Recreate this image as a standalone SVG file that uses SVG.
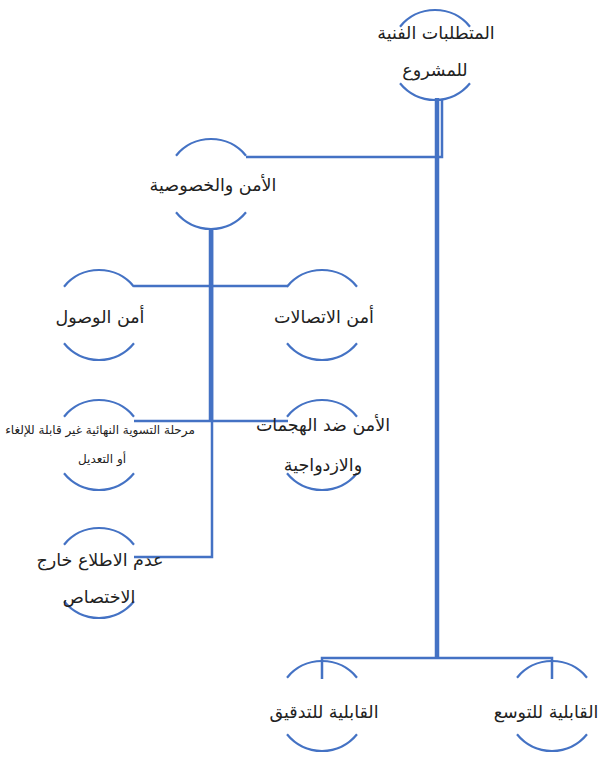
<svg xmlns="http://www.w3.org/2000/svg" xmlns:xlink="http://www.w3.org/1999/xlink" width="602" height="758" viewBox="0 0 602 758">
<style>
.arc{fill:none;stroke:#4472C4;stroke-width:2.2}
.ln{fill:none;stroke:#4472C4;stroke-width:2.5}
.tk{fill:none;stroke:#4472C4;stroke-width:4.5}
.t{font-family:"DejaVu Sans",sans-serif;font-size:17.5px;fill:#222;text-anchor:middle;direction:rtl}
.s{font-size:12px}
</style>
<defs>
<g id="arcs">
<path class="arc" d="M-35 -28.3 A45 45 0 0 1 35 -28.3"/>
<path class="arc" d="M-35 28.3 A45 45 0 0 0 35 28.3"/>
</g>
</defs>
<rect width="602" height="758" fill="#fff"/>
<g id="connectors">
<path class="ln" d="M442 100 V157 H246"/>
<path class="tk" d="M437 98 V658"/>
<path class="ln" d="M322 679 V658 H552 V679"/>
<path class="tk" d="M211 229 V421"/>
<path class="ln" d="M212 229 V557 H134"/>
<path class="ln" d="M134 286 H288"/>
<path class="ln" d="M134 421 H288"/>
</g>
<g id="n1"><use xlink:href="#arcs" transform="translate(435,55)"/><text class="t" x="436" y="39">المتطلبات الفنية</text><text class="t" x="435" y="76">للمشروع</text></g>
<g id="n2"><use xlink:href="#arcs" transform="translate(211,184)"/><text class="t" x="213" y="191">الأمن والخصوصية</text></g>
<g id="n3"><use xlink:href="#arcs" transform="translate(99,315)"/><text class="t" x="100" y="323">أمن الوصول</text></g>
<g id="n4"><use xlink:href="#arcs" transform="translate(322,315)"/><text class="t" x="324" y="323">أمن الاتصالات</text></g>
<g id="n5"><use xlink:href="#arcs" transform="translate(99,445)"/><text class="t s" x="100" y="434">مرحلة التسوية النهائية غير قابلة للإلغاء</text><text class="t s" x="102" y="463">أو التعديل</text></g>
<g id="n6"><use xlink:href="#arcs" transform="translate(322,445)"/><text class="t" x="323" y="431">الأمن ضد الهجمات</text><text class="t" x="323" y="471">والازدواجية</text></g>
<g id="n7"><use xlink:href="#arcs" transform="translate(99,573)"/><text class="t" x="100" y="566">عدم الاطلاع خارج</text><text class="t" x="99" y="603">الاختصاص</text></g>
<g id="n8"><use xlink:href="#arcs" transform="translate(322,706)"/><text class="t" x="324" y="718">القابلية للتدقيق</text></g>
<g id="n9"><use xlink:href="#arcs" transform="translate(552,706)"/><text class="t" x="546" y="718">القابلية للتوسع</text></g>
</svg>
